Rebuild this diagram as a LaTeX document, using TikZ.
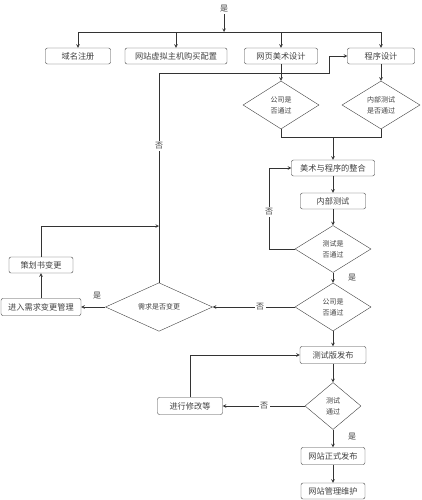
\documentclass[tikz,border=0pt]{standalone}
\usepackage{fontspec}
\setmainfont{Noto Sans CJK SC}
\usetikzlibrary{shapes.geometric}
\tikzset{
  box/.style={draw=black!75,rounded corners=2pt,minimum height=16,inner sep=1pt,text=black!75,font=\fontsize{8.2}{9}\selectfont},
  decision/.style={diamond,draw=black!75,inner sep=0pt,align=center,text=black!75,font=\fontsize{7}{11}\selectfont},
  lbl/.style={fill=white,inner sep=1.5pt,text=black!75,font=\fontsize{8}{9}\selectfont},
  arr/.style={draw=black!80,line width=0.6pt,-stealth},
  ln/.style={draw=black!80,line width=0.6pt}
}
\begin{document}
\begin{tikzpicture}[x=1pt,y=-1pt]
    %\draw[help lines,step=50] (0,0) grid (421,500);
    \useasboundingbox (0,0) rectangle (421,500);
       \node[lbl] (start) at (224,9) {是};
       \coordinate (j) at (224,32);
       \node[box,minimum width=65] (domain) at (78,56) {域名注册};
       \node[box,minimum width=102] (host) at (176,56) {网站虚拟主机购买配置};
       \node[box,minimum width=73] (art) at (281,56) {网页美术设计};
       \node[box,minimum width=67] (prog) at (381,56) {程序设计};
       \node[decision,minimum width=76,minimum height=48] (artok) at (281,105) {公司是\\否通过};
       \node[decision,minimum width=78,minimum height=48] (progok) at (381,105) {内部测试\\是否通过};
       \coordinate (m) at (333,137);
       \node[box,minimum width=83] (merge) at (333,168) {美术与程序的整合};
       \node[box,minimum width=65] (itest) at (333,201) {内部测试};
       \node[decision,minimum width=76,minimum height=47] (testok) at (333,249) {测试是\\否通过};
       \node[decision,minimum width=76,minimum height=48] (compok) at (333,307) {公司是\\否通过};
       \node[box,minimum width=66,minimum height=17] (beta) at (333,355) {测试版发布};
       \node[decision,minimum width=56,minimum height=47] (betaok) at (333,406) {测试\\通过};
       \node[box,minimum width=64,minimum height=17] (release) at (333,456) {网站正式发布};
       \node[box,minimum width=64] (maint) at (333,491) {网站管理维护};
       \node[box,minimum width=65,minimum height=17] (fix) at (190,406) {进行修改等};
       \node[decision,minimum width=107,minimum height=37] (change) at (159,307) {需求是否变更};
       \node[box,minimum width=80,minimum height=17] (reqmgr) at (41,307) {进入需求变更管理};
       \node[box,minimum width=64] (plan) at (41,265) {策划书变更};
       \coordinate (c1) at (159,226);
       \coordinate (c2) at (329,73);
       % top fan out
       \draw[arr] (start) -- (j);
       \draw[arr] (j) -| (domain);
       \draw[arr] (j) -| (host);
       \draw[arr] (j) -| (art);
       \draw[arr] (j) -| (prog);
       \draw[arr] (art) -- (artok);
       \draw[arr] (prog) -- (progok);
       \draw[ln] (artok.south) |- (m);
       \draw[ln] (progok.south) |- (m);
       \draw[arr] (m) -- (merge);
       \draw[arr] (merge) -- (itest);
       \draw[arr] (itest) -- (testok);
       \draw[arr] (testok.west) -- ++(-26,0) |- (merge.west);
       \node[lbl] at (269,212) {否};
       \draw[arr] (testok) -- (compok);
       \node[lbl] at (352,278) {是};
       \draw[arr] (compok.west) -- (change.east);
       \node[lbl] at (260,307) {否};
       \draw[arr] (change.west) -- (reqmgr.east);
       \node[lbl] at (97,296) {是};
       \draw[arr] (reqmgr) -- (plan);
       \draw[arr] (plan.north) |- (c1);
       \draw[arr] (change.north) |- (c2) |- (prog.west);
       \node[lbl] at (159,146) {否};
       \draw[arr] (compok) -- (beta);
       \draw[arr] (beta) -- (betaok);
       \draw[arr] (betaok.west) -- (fix.east);
       \node[lbl] at (264,406) {否};
       \draw[arr] (fix.north) |- (beta.west);
       \draw[arr] (betaok) -- (release);
       \node[lbl] at (352,437) {是};
       \draw[arr] (release) -- (maint);
\end{tikzpicture}
\end{document}
